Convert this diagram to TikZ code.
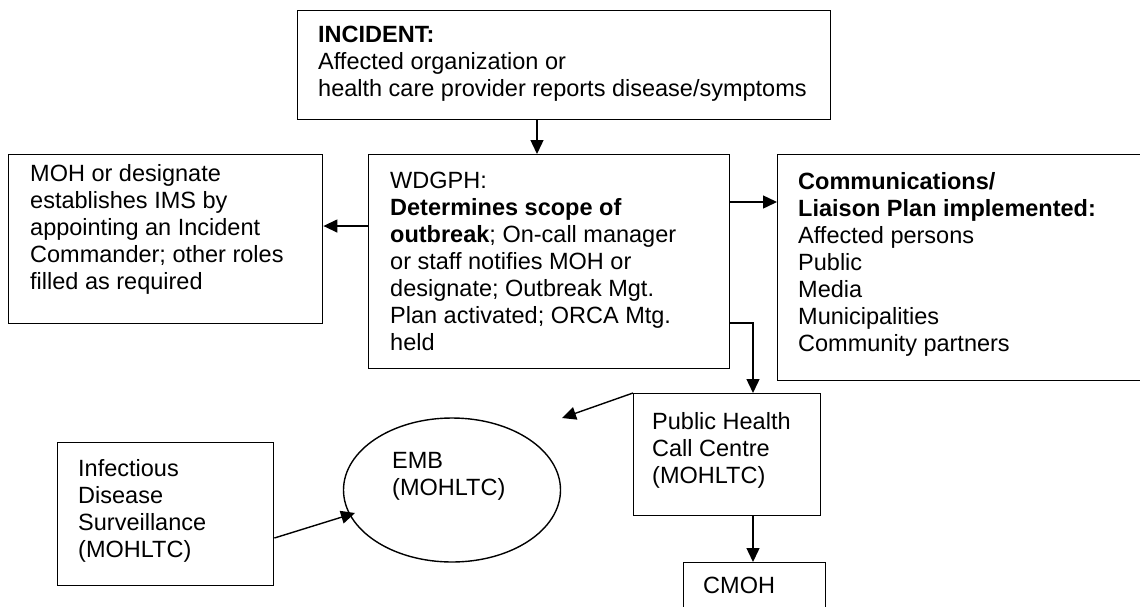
\documentclass[tikz,border=0pt]{standalone}
\usepackage{fontspec}
\setmainfont{Liberation Sans}
\usetikzlibrary{arrows.meta,calc,shapes.geometric}
\begin{document}
\begin{tikzpicture}[x=1pt,y=-1pt,
 box/.style={draw, line width=1.4pt, inner sep=0pt, anchor=north west},
 txt/.style={anchor=north west, inner sep=0pt, align=left, font=\fontsize{23.5}{27}\selectfont},
 arr/.style={line width=1.4pt, -{Triangle[length=14pt,width=13pt]}}]
\useasboundingbox (0,0) rectangle (1140,606);
\clip (0,0) rectangle (1140,606);
% boxes
\node[box, minimum width=533pt, minimum height=109pt] (inc) at (297,10) {};
\node[box, minimum width=361pt, minimum height=214pt] (wd) at (368,154) {};
\node[box, minimum width=314pt, minimum height=169pt] (moh) at (8,154) {};
\node[box, minimum width=380pt, minimum height=226pt] (com) at (777,154) {};
\node[box, minimum width=187pt, minimum height=122pt] (ph) at (633,393) {};
\node[box, minimum width=142pt, minimum height=70pt] (cmoh) at (683,562) {};
\node[box, minimum width=216pt, minimum height=143pt] (ids) at (57,442) {};
\node[draw, ellipse, line width=1.4pt, inner sep=0pt, minimum width=217pt, minimum height=144pt] (emb) at (452,490) {};
% texts
\node[txt] (inct) at (318,26) {\textbf{INCIDENT:}\\Affected organization or\\health care provider reports disease/symptoms};
\node[txt] (wdt) at (390,172) {WDGPH:\\\textbf{Determines scope of}\\\textbf{outbreak}; On-call manager\\or staff notifies MOH or\\designate; Outbreak Mgt.\\Plan activated; ORCA Mtg.\\held};
\node[txt] (moht) at (30,164) {MOH or designate\\establishes IMS by\\appointing an Incident\\Commander; other roles\\filled as required};
\node[txt] (comt) at (798,172) {\textbf{Communications/}\\\textbf{Liaison Plan implemented:}\\Affected persons\\Public\\Media\\Municipalities\\Community partners};
\node[txt] (pht) at (652,412) {Public Health\\Call Centre\\(MOHLTC)};
\node[txt] (embt) at (392,452) {EMB\\(MOHLTC)};
\node[txt] (cmoht) at (703,577) {CMOH};
\node[txt] (idst) at (78,459) {Infectious\\Disease\\Surveillance\\(MOHLTC)};
% connectors
\coordinate (phend) at (562,418);
\coordinate (embin) at (355,513);
\draw[arr] (inc.south -| 537,0) -- (wd.north -| 537,0);
\draw[arr] ($(wd.north west)+(0,72)$) -- ($(moh.north east)+(0,72)$);
\draw[arr] ($(wd.north east)+(0,48)$) -- ($(com.north west)+(0,48)$);
\draw[arr] ($(wd.north east)+(0,169)$) -| ($(ph.north west)+(120,0)$);
\draw[arr] (ph.north west) -- (phend);
\draw[arr] ($(ph.south west)+(120,0)$) -- ($(cmoh.north west)+(70,0)$);
\draw[arr] ($(ids.north east)+(0,96)$) -- (embin);
\end{tikzpicture}
\end{document}
